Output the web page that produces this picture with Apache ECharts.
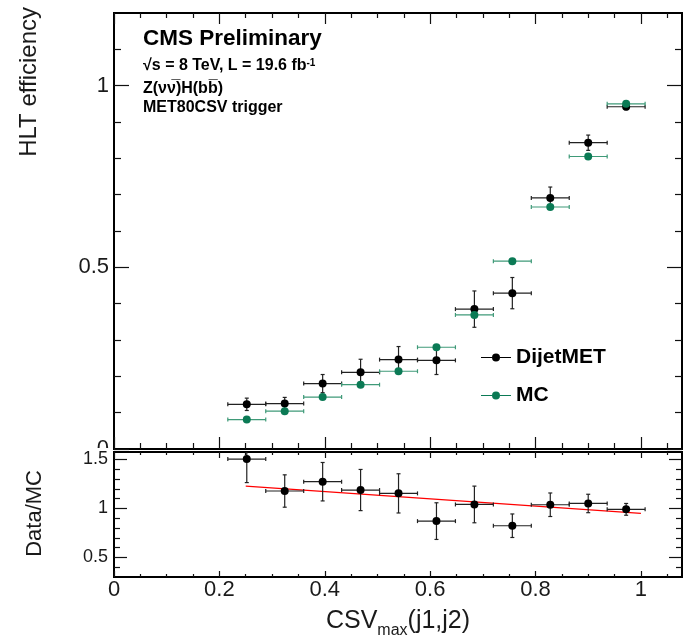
<!DOCTYPE html>
<html>
<head>
<meta charset="utf-8">
<script src="https://cdn.jsdelivr.net/npm/echarts@6.0.0/dist/echarts.min.js"></script>
<style>
html,body{margin:0;padding:0;background:#fff;}
#chart{width:684px;height:638px;}
</style>
</head>
<body>
<div id="chart"></div>
<script>
// ---- data ----
const binCenters = [0.252, 0.324, 0.396, 0.468, 0.540, 0.612, 0.684, 0.756, 0.828, 0.900, 0.972];
const binHalfWidth = 0.036;
const dataEff = [0.123, 0.125, 0.180, 0.211, 0.246, 0.244, 0.385, 0.429, 0.691, 0.843, 0.942];
const dataErr = [0.017, 0.017, 0.025, 0.036, 0.036, 0.039, 0.050, 0.043, 0.030, 0.021, 0.008];
const mcEff   = [0.081, 0.104, 0.143, 0.177, 0.214, 0.280, 0.369, 0.517, 0.666, 0.805, 0.950];
const mcErr   = [0.003, 0.003, 0.003, 0.003, 0.003, 0.003, 0.003, 0.003, 0.003, 0.003, 0.002];
const ratio    = [1.503, 1.177, 1.272, 1.187, 1.153, 0.870, 1.040, 0.823, 1.037, 1.050, 0.990];
const ratioErr = [0.240, 0.165, 0.196, 0.210, 0.200, 0.187, 0.187, 0.120, 0.120, 0.094, 0.060];
const fitX = [0.25, 1.0];
const fitY = [1.227, 0.949];

// ---- axis ranges and tick values ----
const xRange = [0, 1.078];
const effRange = [0, 1.2];
const ratioRange = [0.3, 1.575];
const xMajor = [0, 0.2, 0.4, 0.6, 0.8, 1.0];
const xMinor = [0.05, 0.1, 0.15, 0.25, 0.3, 0.35, 0.45, 0.5, 0.55, 0.65, 0.7, 0.75, 0.85, 0.9, 0.95, 1.05];
const effMajor = [0, 0.5, 1.0];
const effMinor = [0.1, 0.2, 0.3, 0.4, 0.6, 0.7, 0.8, 0.9, 1.1];
const ratioMajor = [0.5, 1.0, 1.5];
const ratioMinor = [0.4, 0.6, 0.7, 0.8, 0.9, 1.1, 1.2, 1.3, 1.4];

const FONT = '"Liberation Sans", Arial, Helvetica, sans-serif';
const TXT = '#1a1a1a';
const GREEN = '#0b7a55';
const GREEN_LINE = '#3f9a78';

function fmt(v){ return String(+(+v).toFixed(2)); }

function axis(dim, grid, pos, range, ticks, len, label, z) {
  const a = {
    type: 'value', gridIndex: grid, position: pos, min: range[0], max: range[1],
    z: z || 0,
    axisLine: {show: false, onZero: false},
    splitLine: {show: false},
    axisTick: {show: true, inside: true, length: len, customValues: ticks,
               lineStyle: {color: '#111', width: 1.2}},
    axisLabel: {show: false}
  };
  if (label) {
    a.axisLabel = Object.assign({show: true, customValues: ticks, formatter: fmt,
      color: TXT, fontFamily: FONT}, label);
  }
  return a;
}

const xAxes = [
  axis('x', 0, 'bottom', xRange, xMajor, 12),
  axis('x', 0, 'bottom', xRange, xMinor, 6),
  axis('x', 0, 'top', xRange, xMajor, 11),
  axis('x', 0, 'top', xRange, xMinor, 5),
  axis('x', 1, 'bottom', xRange, xMajor, 6, {fontSize: 22, margin: 2}, 5),
  axis('x', 1, 'bottom', xRange, xMinor, 3),
  axis('x', 1, 'top', xRange, xMajor, 6),
  axis('x', 1, 'top', xRange, xMinor, 3)
];
const yAxes = [
  axis('y', 0, 'left', effRange, effMajor, 15, {fontSize: 22, margin: 5}, 0),
  axis('y', 0, 'left', effRange, effMinor, 7),
  axis('y', 0, 'right', effRange, effMajor, 15),
  axis('y', 0, 'right', effRange, effMinor, 7),
  axis('y', 1, 'left', ratioRange, ratioMajor, 13, {fontSize: 18, margin: 6}, 5),
  axis('y', 1, 'left', ratioRange, ratioMinor, 6),
  axis('y', 1, 'right', ratioRange, ratioMajor, 13),
  axis('y', 1, 'right', ratioRange, ratioMinor, 6)
];

function errRender(color) {
  return function (params, api) {
    const x = api.value(0), y = api.value(1), ex = api.value(2), ey = api.value(3);
    const cs = params.coordSys;
    const pL = api.coord([x - ex, y]);
    const pR = api.coord([x + ex, y]);
    const pT = api.coord([x, y + ey]);
    const pB = api.coord([x, y - ey]);
    const top = Math.max(pT[1], cs.y);
    const bot = Math.min(pB[1], cs.y + cs.height);
    const st = {stroke: color, lineWidth: 1.2};
    const c = 2;
    const children = [
      {type: 'line', shape: {x1: pL[0], y1: pL[1], x2: pR[0], y2: pR[1]}, style: st},
      {type: 'line', shape: {x1: pL[0], y1: pL[1] - c, x2: pL[0], y2: pL[1] + c}, style: st},
      {type: 'line', shape: {x1: pR[0], y1: pR[1] - c, x2: pR[0], y2: pR[1] + c}, style: st},
      {type: 'line', shape: {x1: pT[0], y1: top, x2: pB[0], y2: bot}, style: st}
    ];
    if (pT[1] >= cs.y) children.push({type: 'line', shape: {x1: pT[0] - c, y1: pT[1], x2: pT[0] + c, y2: pT[1]}, style: st});
    children.push({type: 'line', shape: {x1: pB[0] - c, y1: pB[1], x2: pB[0] + c, y2: pB[1]}, style: st});
    return {type: 'group', children: children};
  };
}

function zip4(a, b, c, d) { return a.map((v, i) => [v, b[i], c, d[i]]); }

const legendIcon = 'path://M0,4.5L11,4.5L11,5.5L0,5.5Z M19,4.5L30,4.5L30,5.5L19,5.5Z M19,5A4,4,0,1,1,11,5A4,4,0,1,1,19,5Z';

const option = {
  animation: false,
  backgroundColor: '#fff',
  grid: [
    {left: 114, top: 13, width: 568, height: 436, show: true, borderColor: '#000', borderWidth: 2,
     backgroundColor: 'transparent', containLabel: false, outerBoundsMode: 'none'},
    {left: 114, top: 452, width: 568, height: 125, show: true, borderColor: '#000', borderWidth: 2,
     backgroundColor: 'transparent', containLabel: false, outerBoundsMode: 'none'}
  ],
  xAxis: xAxes,
  yAxis: yAxes,
  legend: {
    show: true, selectedMode: false, orient: 'vertical', left: 481, top: 347, padding: 0,
    itemWidth: 30, itemHeight: 10, itemGap: 17,
    data: [{name: 'DijetMET', icon: legendIcon}, {name: 'MC', icon: legendIcon}],
    textStyle: {fontSize: 21, fontWeight: 'bold', color: '#000', fontFamily: FONT}
  },
  graphic: [
    {type: 'rect', z: 1, shape: {x: 0, y: 448, width: 108, height: 12}, style: {fill: '#fff'}},
    {type: 'text', x: 143, y: 39, style: {text: 'CMS Preliminary', font: 'bold 22.5px ' + FONT, fill: '#000', verticalAlign: 'middle'}},
    {type: 'text', x: 143, y: 66, style: {text: '\u221As = 8 TeV, L = 19.6 fb{sup|-1}', font: 'bold 16px ' + FONT, fill: '#000', verticalAlign: 'middle',
      rich: {sup: {fontSize: 10, fontWeight: 'bold', fontFamily: FONT, verticalAlign: 'top', fill: '#000'}}}},
    {type: 'text', x: 143, y: 88.5, style: {text: 'Z(\u03BD\u03BD\u0305)H(bb\u0305)', font: 'bold 16px ' + FONT, fill: '#000', verticalAlign: 'middle'}},
    {type: 'text', x: 143, y: 107.5, style: {text: 'MET80CSV trigger', font: 'bold 16px ' + FONT, fill: '#000', verticalAlign: 'middle'}},
    {type: 'text', x: 29, y: 7, rotation: Math.PI / 2, style: {text: 'HLT efficiency', font: '24px ' + FONT, fill: TXT, align: 'right', verticalAlign: 'middle'}},
    {type: 'text', x: 35, y: 470, rotation: Math.PI / 2, style: {text: 'Data/MC', font: '22px ' + FONT, fill: TXT, align: 'right', verticalAlign: 'middle'}},
    {type: 'text', x: 398, y: 621.5, style: {text: '{a|CSV}{b|max}{a|(j1,j2)}', align: 'center', verticalAlign: 'middle',
      rich: {
        a: {fontSize: 25, fontFamily: FONT, fill: TXT, lineHeight: 35, verticalAlign: 'middle'},
        b: {fontSize: 16, fontFamily: FONT, fill: TXT, lineHeight: 16, verticalAlign: 'bottom'}
      }}}
  ],
  series: [
    {type: 'custom', name: 'dataErr', xAxisIndex: 0, yAxisIndex: 0, renderItem: errRender('#222'),
     encode: {x: 0, y: 1}, data: zip4(binCenters, dataEff, binHalfWidth, dataErr), z: 2, silent: true},
    {type: 'scatter', name: 'DijetMET', xAxisIndex: 0, yAxisIndex: 0, symbol: 'circle', symbolSize: 8,
     itemStyle: {color: '#000', opacity: 1}, data: binCenters.map((x, i) => [x, dataEff[i]]), z: 3, silent: true},
    {type: 'custom', name: 'mcErr', xAxisIndex: 0, yAxisIndex: 0, renderItem: errRender(GREEN_LINE),
     encode: {x: 0, y: 1}, data: zip4(binCenters, mcEff, binHalfWidth, mcErr), z: 4, silent: true},
    {type: 'scatter', name: 'MC', xAxisIndex: 0, yAxisIndex: 0, symbol: 'circle', symbolSize: 8,
     itemStyle: {color: GREEN, opacity: 1}, data: binCenters.map((x, i) => [x, mcEff[i]]), z: 5, silent: true},
    {type: 'line', name: 'fit', xAxisIndex: 4, yAxisIndex: 4, showSymbol: false, symbol: 'none',
     lineStyle: {color: '#ff0000', width: 1.3}, data: fitX.map((x, i) => [x, fitY[i]]), z: 2, silent: true},
    {type: 'custom', name: 'ratioErr', xAxisIndex: 4, yAxisIndex: 4, renderItem: errRender('#222'),
     encode: {x: 0, y: 1}, data: zip4(binCenters, ratio, binHalfWidth, ratioErr), z: 3, silent: true},
    {type: 'scatter', name: 'ratio', xAxisIndex: 4, yAxisIndex: 4, symbol: 'circle', symbolSize: 8,
     itemStyle: {color: '#000', opacity: 1}, data: binCenters.map((x, i) => [x, ratio[i]]), z: 4, silent: true}
  ]
};

const chart = echarts.init(document.getElementById('chart'), null, {renderer: 'canvas'});
chart.setOption(option);
</script>
</body>
</html>
